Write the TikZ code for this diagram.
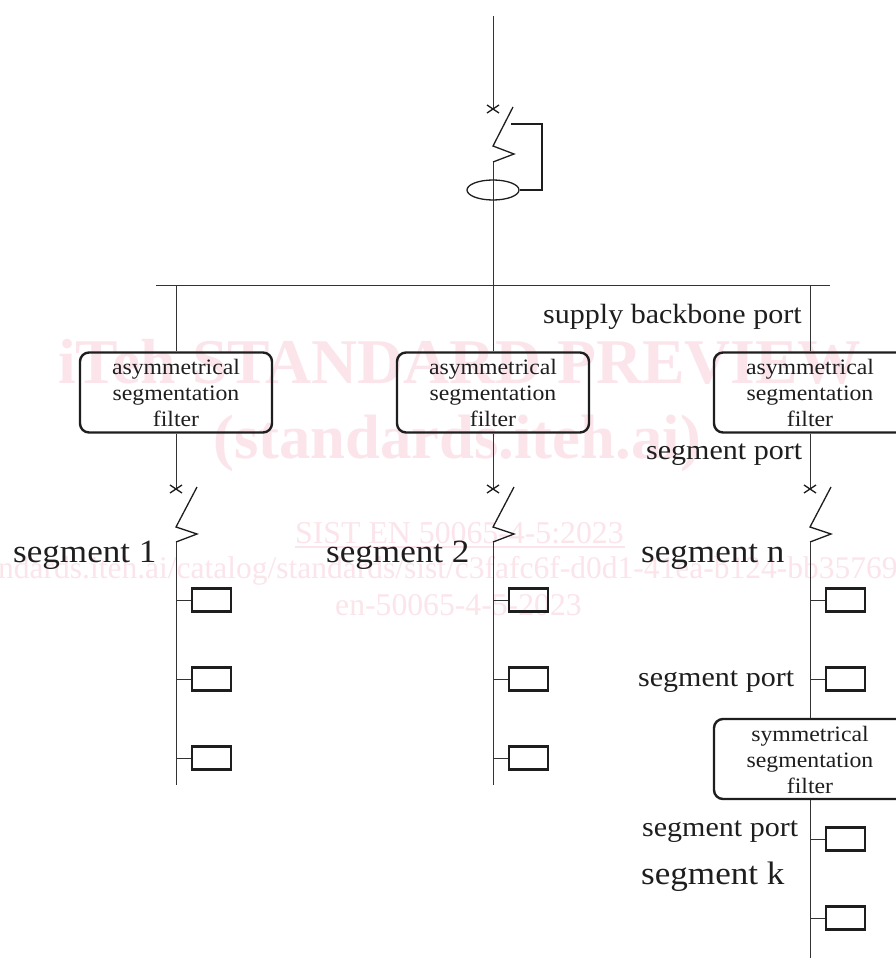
\documentclass[tikz,border=0pt]{standalone}
\usepackage{fontspec}
\setmainfont{Liberation Serif}
\newfontfamily\lblfont[FakeStretch=1.08]{Liberation Serif}
\usetikzlibrary{calc,shapes.geometric}
\definecolor{wm}{HTML}{FBE5EA}
\definecolor{ink}{HTML}{1E1E1E}
\definecolor{wireink}{HTML}{333333}
\tikzset{
  wire/.style={draw=wireink,line width=1pt},
  thick wire/.style={draw=ink,line width=1.3pt},
  filterbox/.style={draw=ink,line width=2.4pt,rounded corners=9pt,fill=none,minimum width=192pt,minimum height=80pt,inner sep=0pt},
  filtertext/.style={font=\lblfont\fontsize{22}{26}\selectfont,text=ink,align=center,anchor=base},
  loadbox/.style={draw=ink,line width=2.4pt,minimum width=39pt,minimum height=23pt,inner sep=0pt},
  biglabel/.style={font=\lblfont\fontsize{32.5}{36}\selectfont,text=ink,inner sep=0pt,anchor=base west},
  midlabel/.style={font=\lblfont\fontsize{27.8}{32}\selectfont,text=ink,inner sep=0pt,anchor=base west},
  watermark/.style={text=wm,inner sep=0pt,anchor=base west},
}
\begin{document}
\begin{tikzpicture}[x=1pt,y=-1pt]
\useasboundingbox (0,0) rectangle (896,958);
\clip (0,0) rectangle (896,958);
\fill[white] (0,0) rectangle (896,958);
% preview stamp
\node[watermark,font=\bfseries\fontsize{63.7}{70}\selectfont] (wma) at (58,383) {iTeh STANDARD PREVIEW};
\node[watermark,font=\bfseries\fontsize{62.7}{70}\selectfont] (wmb) at (213,458) {(standards.iteh.ai)};
\node[watermark,font=\fontsize{31.8}{36}\selectfont] (wmc) at (295,543) {SIST EN 50065-4-5:2023};
\draw[wm,line width=2pt] (295,546.5) -- (625,546.5);
\node[watermark,font=\fontsize{31.5}{36}\selectfont] (wmd) at (-2,578) {ndards.iteh.ai/catalog/standards/sist/c3fafc6f-d0d1-41ea-b124-bb35769};
\node[watermark,font=\fontsize{31.7}{36}\selectfont] (wme) at (335,615) {en-50065-4-5-2023};
% incoming feeder
\coordinate (top) at (493,16);
\coordinate (mx) at (493,109);
\coordinate (mb) at (513,107);
\coordinate (mh) at (493,146);
\coordinate (mz) at (514,154);
\coordinate (ml) at (493,162);
\coordinate (bus) at (493,285);
\coordinate (busw) at (156,285);
\coordinate (buse) at (830,285);
\draw[wire] (top) -- (mx);
\draw[thick wire] ($(mx)+(-6,-4)$) -- ($(mx)+(6,4)$) ($(mx)+(-6,4)$) -- ($(mx)+(6,-4)$);
\draw[thick wire] (mb) -- (mh) -- (mz) -- (ml);
\draw[wire] (ml) -- (bus);
\node[draw=ink,line width=1.3pt,ellipse,minimum width=52pt,minimum height=20pt,inner sep=0pt] (ct) at (493,190) {};
\coordinate (tripa) at (511,124);
\coordinate (tripb) at (542,124);
\coordinate (tripc) at (542,190);
\draw[thick wire] (tripa) -- (tripb) -- (tripc) -- (ct.east);
\draw[wire] (busw) -- (buse);
% three branches
\foreach \n/\x in {a/176,b/493,c/810}{
  \coordinate (t\n) at (\x,285);
  \node[filterbox] (f\n) at (\x,392.5) {};
  \node[filtertext] at (\x,374) {asymmetrical};
  \node[filtertext] at (\x,400) {segmentation};
  \node[filtertext] at (\x,426) {filter};
  \draw[wire] (t\n) -- (f\n.north);
  \coordinate (x\n) at (\x,489);
  \draw[wire] (f\n.south) -- (x\n);
  \draw[thick wire] ($(x\n)+(-6,-4)$) -- ($(x\n)+(6,4)$) ($(x\n)+(-6,4)$) -- ($(x\n)+(6,-4)$);
  \coordinate (b\n) at (\x+21,487);
  \coordinate (h\n) at (\x,527);
  \coordinate (z\n) at (\x+21,534);
  \coordinate (l\n) at (\x,542);
  \draw[thick wire] (b\n) -- (h\n) -- (z\n) -- (l\n);
  \foreach \k/\y in {1/600,2/679}{
    \node[loadbox] (p\n\k) at (\x+35.5,\y) {};
    \coordinate (s\n\k) at (\x,\y);
    \draw[wire] (s\n\k) -- (p\n\k.west);
  }
}
\foreach \n/\x in {a/176,b/493}{
  \node[loadbox] (p\n3) at (\x+35.5,758) {};
  \coordinate (s\n3) at (\x,758);
  \draw[wire] (s\n3) -- (p\n3.west);
  \coordinate (e\n) at (\x,785);
  \draw[wire] (l\n) -- (e\n);
}
% branch n continues through the symmetrical filter
\node[filterbox] (fs) at (810,759) {};
\node[filtertext] at (810,741) {symmetrical};
\node[filtertext] at (810,767) {segmentation};
\node[filtertext] at (810,793) {filter};
\draw[wire] (lc) -- (fs.north);
\coordinate (ec) at (810,958);
\draw[wire] (fs.south) -- (ec);
\foreach \k/\y in {4/839,5/918}{
  \node[loadbox] (pc\k) at (845.5,\y) {};
  \coordinate (sc\k) at (810,\y);
  \draw[wire] (sc\k) -- (pc\k.west);
}
% labels
\node[biglabel] (ls1) at (13,562) {segment 1};
\node[biglabel] (ls2) at (326,562) {segment 2};
\node[biglabel] (lsn) at (641,562) {segment n};
\node[biglabel] (lsk) at (641,884) {segment k};
\node[midlabel] (lsb) at (543,323) {supply backbone port};
\node[midlabel] (lp1) at (646,459) {segment port};
\node[midlabel] (lp2) at (638,686) {segment port};
\node[midlabel] (lp3) at (642,836) {segment port};
\end{tikzpicture}
\end{document}
